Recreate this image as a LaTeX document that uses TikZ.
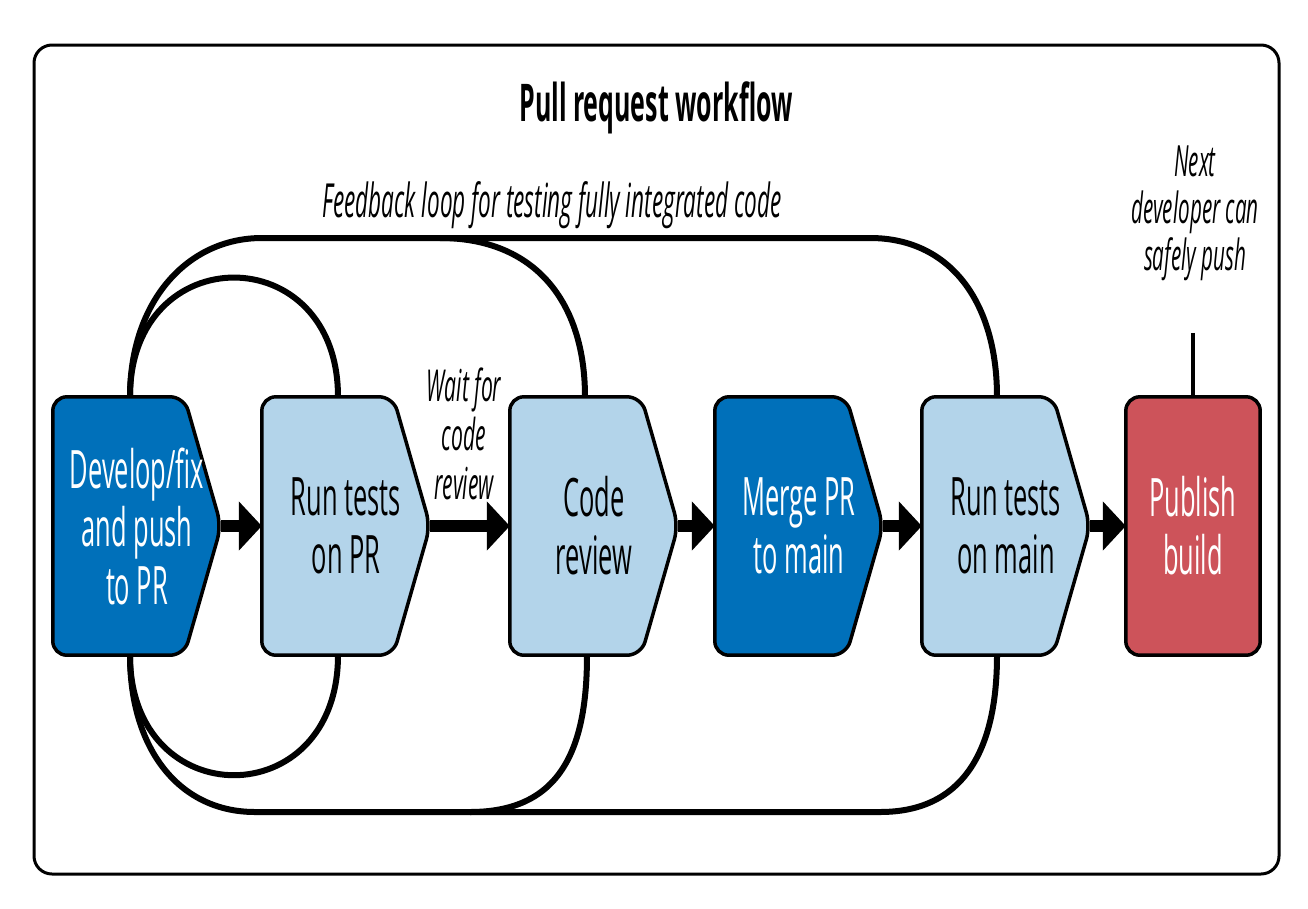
\documentclass[tikz,border=0pt]{standalone}
\usepackage{fontspec}
\setmainfont{Open Sans}[FakeStretch=0.48]
\usepackage{xcolor}
\usepackage{tikz}
\usetikzlibrary{arrows.meta}

\definecolor{prdark}{RGB}{0,112,186}
\definecolor{prlight}{RGB}{179,212,234}
\definecolor{prred}{RGB}{205,83,90}

\pgfdeclarelayer{loops}
\pgfdeclarelayer{shapes}
\pgfsetlayers{loops,shapes,main}

% chevron box drawn behind the text of a stage node
\newcommand{\chevron}[2]{%
\begin{pgfonlayer}{shapes}
\draw [stageline, fill=#2] (#1.north west) -- ([xshift=-37pt]#1.north east) -- (#1.east)
      -- ([xshift=-37pt]#1.south east) -- (#1.south west) -- cycle;
\end{pgfonlayer}}

\begin{document}
\begin{tikzpicture}[x=1pt, y=-1pt,
  stage/.style={minimum width=168pt, minimum height=258pt, inner sep=0pt, align=center,
    font=\fontsize{53}{58}\selectfont},
  stageline/.style={draw=black, line width=3.5pt, rounded corners=14pt},
  flow/.style={line width=12pt, -{Triangle[length=23pt,width=48pt]}},
  loop/.style={line width=6pt},
  note/.style={align=center, font=\itshape\fontsize{43}{47}\selectfont}]
\useasboundingbox (0, 0) rectangle (1308, 908);
\draw [line width=3pt, rounded corners=18pt] (34, 45) rectangle (1279, 874);

\node (title) at (656, 108) {\bfseries\fontsize{52}{58}\selectfont Pull request workflow};
\node [note, font=\itshape\fontsize{47}{52}\selectfont] (loopnote) at (552, 205) {Feedback loop for testing fully integrated code};

% stages
\node [stage, text=white] (dev)     at (137, 526)  {Develop/fix\\and push\\to PR};
\node [stage]             (runpr)   at (346, 526)  {Run tests\\on PR};
\node [stage]             (review)  at (594, 526)  {Code\\review};
\node [stage, text=white] (merge)   at (799, 526)  {Merge PR\\to main};
\node [stage]             (runmain) at (1006, 526) {Run tests\\on main};
\node [stage, text=white, minimum width=134pt] (pub) at (1193, 526) {Publish\\build};
\chevron{dev}{prdark}
\chevron{runpr}{prlight}
\chevron{review}{prlight}
\chevron{merge}{prdark}
\chevron{runmain}{prlight}
\begin{pgfonlayer}{shapes}
\draw [stageline, fill=prred] (pub.north west) rectangle (pub.south east);
\end{pgfonlayer}

% arrows
\draw [flow] (dev.east) -- (runpr.west);
\draw [flow] (runpr.east) -- (review.west);
\draw [flow] (review.east) -- (merge.west);
\draw [flow] (merge.east) -- (runmain.west);
\draw [flow] (runmain.east) -- (pub.west);
\node [note, font=\itshape\fontsize{44}{49}\selectfont] (wait) at (464, 434) {Wait for\\code\\review};

% feedback loops
\begin{pgfonlayer}{loops}
\draw [loop] ([xshift=-7pt]dev.north) .. controls +(0, -159) and +(0, -159) .. ([xshift=-8pt]runpr.north);
\draw [loop] ([xshift=-7pt]dev.south) .. controls +(0, 160) and +(0, 160) .. ([xshift=-8pt]runpr.south);
\draw [loop] ([xshift=-7pt]dev.north) .. controls +(0, -95) and +(-75, 0) .. (262, 238) -- (870, 238)
      .. controls +(80, 0) and +(0, -95) .. ([xshift=-9pt]runmain.north);
\draw [loop] (440, 238) .. controls +(95, 0) and +(0, -95) .. ([xshift=-9pt]review.north);
\draw [loop] ([xshift=-7pt]dev.south) .. controls +(0, 95) and +(-75, 0) .. (255, 812) -- (880, 812)
      .. controls +(80, 0) and +(0, 100) .. ([xshift=-9pt]runmain.south);
\draw [loop] (470, 812) .. controls +(90, 0) and +(0, 95) .. ([xshift=-7pt]review.south);
\end{pgfonlayer}

\node [note] (nextnote) at (1195, 213) {Next\\developer can\\safely push};
\draw [line width=4pt] ([yshift=64pt]pub.north) -- (pub.north);
\end{tikzpicture}
\end{document}
